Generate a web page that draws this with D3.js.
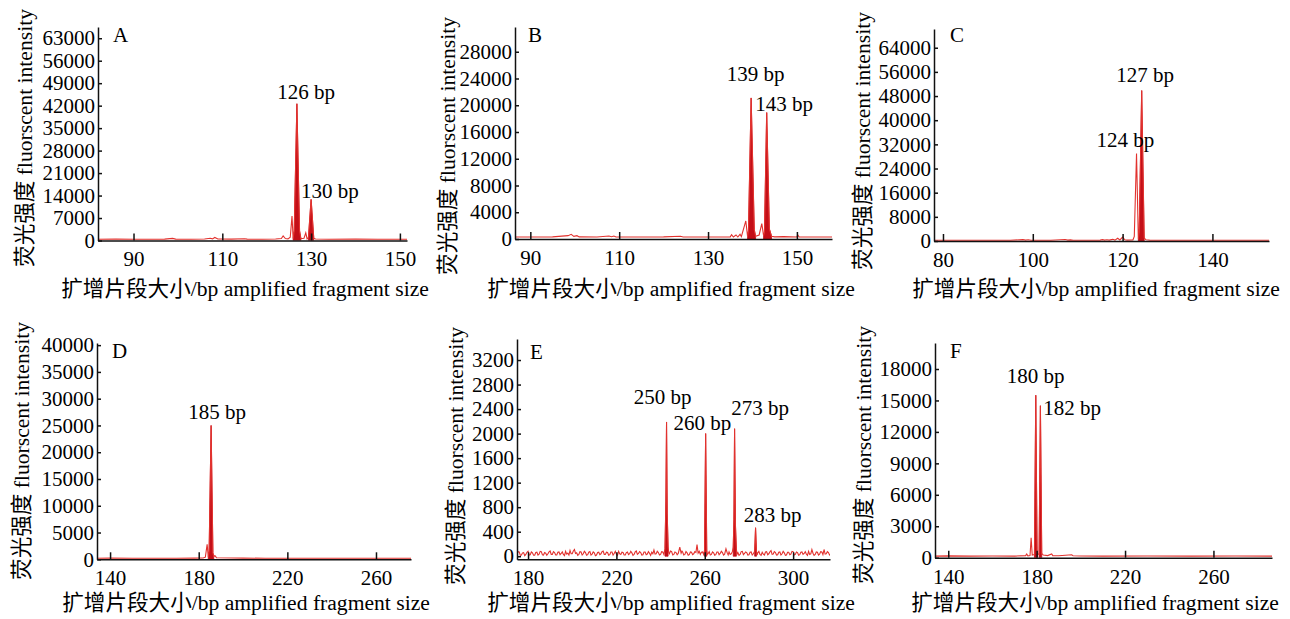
<!DOCTYPE html>
<html lang="en">
<head>
<meta charset="utf-8">
<script src="https://cdn.jsdelivr.net/npm/d3@7"></script>
<style>
  body { margin: 0; background: #fff; }
</style>
</head>
<body>
<div id="my_chart"></div>
<script>
// ---- data: [fragment size (bp), intensity] ----
const traceA = [[82,400],[86,420],[90,400],[94,380],[97,420],[98.8,650],[99.5,420],[103,400],[106,450],[107.3,700],[107.8,500],[108.3,950],[109,450],[112,420],[115,550],[115.6,420],[119,400],[122,450],[123.3,600],[123.7,1400],[124.2,600],[124.8,500],[125.3,1000],[125.7,7600],[125.95,600],[126.2,3000],[126.8,42600],[127.4,3000],[127.7,600],[128.4,700],[128.8,2400],[129.1,500],[129.4,900],[130.0,12800],[130.6,700],[131,450],[134,400],[140,420],[145,400],[151.6,400]];
const fillA = [[125.95,127.7],[129.4,130.6]];

const traceB = [[86.5,300],[90,300],[95,320],[98.5,500],[99.2,700],[99.8,400],[100.5,500],[101,320],[105,300],[107.7,450],[108.3,350],[108.8,450],[109.3,300],[115,300],[120,320],[123.8,420],[124.4,300],[130,300],[135,320],[135.3,650],[135.7,300],[136.3,600],[136.7,300],[137.2,700],[137.5,350],[138.5,2700],[138.9,400],[139.1,1200],[139.7,21100],[140.4,1400],[140.7,400],[141.5,600],[142.1,2300],[142.5,500],[142.7,1000],[143.2,18900],[143.8,1500],[144.3,400],[145,320],[147,350],[150,300],[150.2,600],[150.5,300],[155,300],[157.9,300]];
const fillB = [[138.9,140.7],[142.5,144.3]];

const traceC = [[78,250],[85,250],[90,260],[95,250],[97.8,450],[98.4,300],[99,400],[99.6,260],[104,250],[107.2,500],[107.8,300],[108.4,380],[109,250],[112,260],[115,300],[115.5,450],[116,280],[116.5,420],[117,280],[117.8,550],[118.3,300],[118.9,900],[119.4,350],[120,1300],[120.5,400],[121,300],[122.3,350],[122.6,1500],[123.1,29000],[123.5,800],[123.7,3000],[124.25,49800],[124.8,1000],[125.2,400],[126,280],[130,250],[135,260],[140,250],[145,250],[152.6,250]];
const fillC = [[123.5,124.8]];

const traceD = [[134,200],[140,220],[150,200],[160,210],[170,200],[178,220],[182,250],[183,400],[183.8,2800],[184.3,500],[184.7,1500],[185.6,25000],[186.4,1200],[186.8,500],[187.3,700],[188,300],[195,250],[200,220],[210,200],[230,210],[250,200],[265,210],[275.8,200]];
const fillD = [[184.3,186.8]];

const traceE = [[175,40],[175.5,75],[176,70],[176.5,15],[177,20],[177.5,55],[178,60],[178.5,10],[179,30],[179.5,65],[180,80],[180.5,20],[181,25],[181.5,70],[182,55],[182.5,15],[183,15],[183.5,60],[184,65],[184.5,20],[185,35],[185.5,80],[186,75],[186.5,25],[187,20],[187.5,60],[188,50],[188.5,15],[189,40],[189.5,70],[190,85],[190.5,30],[191,30],[191.5,75],[192,60],[192.5,20],[193,20],[193.5,65],[194,70],[194.5,25],[195,45],[195.5,70],[196,30],[196.5,10],[197,80],[197.5,35],[198,50],[198.5,20],[199,95],[199.5,40],[200,40],[200.5,85],[201,110],[201.5,45],[202,55],[202.5,15],[203,30],[203.5,75],[204,70],[204.5,20],[205,40],[205.5,80],[206,60],[206.5,15],[207,25],[207.5,65],[208,75],[208.5,20],[209,35],[209.5,70],[210,55],[210.5,10],[211,20],[211.5,60],[212,65],[212.5,25],[213,40],[213.5,75],[214,85],[214.5,30],[215,30],[215.5,65],[216,60],[216.5,15],[217,25],[217.5,70],[218,70],[218.5,20],[219,45],[219.5,80],[220,35],[220.5,15],[221,80],[221.5,40],[222,30],[222.5,65],[223,60],[223.5,20],[224,20],[224.5,60],[225,70],[225.5,25],[226,40],[226.5,80],[227,55],[227.5,15],[228,30],[228.5,70],[229,85],[229.5,30],[230,45],[230.5,75],[231,60],[231.5,20],[232,25],[232.5,70],[233,70],[233.5,25],[234,35],[234.5,75],[235,50],[235.5,15],[236,65],[236.5,40],[237,100],[237.5,35],[238,40],[238.5,80],[239,60],[239.5,20],[240,30],[240.5,75],[241,70],[241.5,30],[242.0,120],[242.4,900],[242.7,2190],[243.0,700],[243.4,150],[243.7,60],[244,40],[244.5,85],[245,75],[245.5,20],[246,30],[246.5,70],[247,60],[247.5,25],[248,45],[248.7,150],[249.3,50],[249.7,85],[250,70],[250.5,20],[251,30],[251.5,75],[252,55],[252.5,15],[253,25],[253.5,70],[254,65],[254.5,25],[255,40],[255.5,75],[256,60],[256.5,190],[257,50],[257.5,80],[258,30],[258.5,65],[259,70],[259.5,30],[259.9,100],[260.4,2000],[260.9,100],[261.2,30],[261.5,40],[262,75],[262.5,20],[263,30],[263.5,70],[264,55],[264.5,15],[265,25],[265.5,70],[266,70],[266.5,25],[267,45],[267.5,80],[268,60],[268.5,20],[269,35],[269.6,120],[270.2,50],[270.6,20],[271,70],[271.5,30],[272,40],[272.5,75],[272.9,150],[273.2,600],[273.5,2080],[273.9,500],[274.3,120],[274.6,30],[275,60],[275.5,15],[276,30],[276.5,75],[277,80],[277.5,25],[278,45],[278.5,70],[279,60],[279.5,20],[280,25],[280.5,65],[281,70],[281.5,20],[282,40],[282.6,80],[283.0,465],[283.4,80],[283.7,20],[284,55],[284.5,80],[285,30],[285.5,15],[286,65],[286.5,35],[287,20],[287.5,70],[288,75],[288.5,25],[289,40],[289.5,70],[290,90],[290.5,30],[291,35],[291.5,75],[292,60],[292.5,20],[293,25],[293.5,65],[294,70],[294.5,20],[295,40],[295.5,80],[296,55],[296.5,15],[297,20],[297.5,65],[298,65],[298.5,25],[299,35],[299.5,80],[300,75],[300.5,20],[301,30],[301.5,70],[302,60],[302.5,15],[303,25],[303.5,65],[304,70],[304.5,30],[305,45],[305.5,75],[306,35],[306.5,15],[307,80],[307.5,30],[308,40],[308.5,110],[309,50],[309.5,15],[310,30],[310.5,70],[311,65],[311.5,20],[312,35],[312.5,75],[313,70],[313.5,25],[314,110],[314.5,35],[315,40],[315.5,75],[316,60],[316.5,20],[317,30]];
const fillE = [[242.0,243.4],[259.9,260.9],[272.9,274.3],[282.6,283.4]];

const traceF = [[134,150],[140,170],[150,150],[160,160],[170,150],[175,200],[175.5,350],[176,180],[177,200],[177.5,1900],[178,250],[179,300],[179.6,15500],[180.2,400],[181.1,300],[181.7,14500],[182.3,400],[183,250],[185,200],[186.8,350],[187.3,200],[190,180],[195.9,280],[196.5,180],[200,160],[210,150],[230,160],[250,150],[270,160],[286.5,150]];
const fillF = [[179.0,180.2],[181.1,182.3]];

// tick labels
const xTicksA = [90,110,130,150];
const xTicksB = [90,110,130,150];
const xTicksC = [80,100,120,140];
const xTicksD = [140,180,220,260];
const xTicksE = [180,220,260,300];
const xTicksF = [140,180,220,260];
const yTicksA = [0,7000,14000,21000,28000,35000,42000,49000,56000,63000];
const yTicksB = [0,4000,8000,12000,16000,20000,24000,28000];
const yTicksC = [0,8000,16000,24000,32000,40000,48000,56000,64000];
const yTicksD = [0,5000,10000,15000,20000,25000,30000,35000,40000];
const yTicksE = [0,400,800,1200,1600,2000,2400,2800,3200];
const yTicksF = [0,3000,6000,9000,12000,15000,18000];

// peak annotations
const notesA = ["126 bp","130 bp"];
const notesB = ["139 bp","143 bp"];
const notesC = ["127 bp","124 bp"];
const notesD = ["185 bp"];
const notesE = ["250 bp","260 bp","273 bp","283 bp"];
const notesF = ["180 bp","182 bp"];

const yTitle = "荧光强度 fluorscent intensity";
const xTitle = "扩增片段大小/bp amplified fragment size";

// ---- layout (pixels) and where the annotations sit, in data units ----
const panels = [
  {tag:"A", trace:traceA, fills:fillA, xTicks:xTicksA, yTicks:yTicksA, notes:notesA,
   left:98, right:407, top:27, bottom:240.5, xDom:[82,151.6], yDom:[0,66500],
   yT:[24,138], xT:[245,296], tagPos:[113,42], notePos:[[122.4,44000],[127.7,13200]]},
  {tag:"B", trace:traceB, fills:fillB, xTicks:xTicksB, yTicks:yTicksB, notes:notesB,
   left:515, right:832, top:27, bottom:239, xDom:[86.55,157.9], yDom:[0,31700],
   yT:[447,146], xT:[671,296], tagPos:[528,42], notePos:[[134.2,23600],[140.6,19100]]},
  {tag:"C", trace:traceC, fills:fillC, xTicks:xTicksC, yTicks:yTicksC, notes:notesC,
   left:934, right:1269, top:29, bottom:241, xDom:[78,152.6], yDom:[0,70200],
   yT:[862,141], xT:[1096,296], tagPos:[950,42], notePos:[[118.6,52800],[114.2,31200]]},
  {tag:"D", trace:traceD, fills:fillD, xTicks:xTicksD, yTicks:yTicksD, notes:notesD,
   left:97, right:411, top:343, bottom:559.3, xDom:[134.1,275.8], yDom:[0,40400],
   yT:[21,451], xT:[246,610], tagPos:[112,358], notePos:[[175.3,26200]]},
  {tag:"E", trace:traceE, fills:fillE, xTicks:xTicksE, yTicks:yTicksE, notes:notesE,
   left:517, right:830, top:339, bottom:559.3, xDom:[175,316.7], yDom:[-50,3543],
   yT:[455,456], xT:[671,610], tagPos:[530,359], notePos:[[227.8,2480],[245.9,2060],[272.0,2310],[277.6,560]]},
  {tag:"F", trace:traceF, fills:fillF, xTicks:xTicksF, yTicks:yTicksF, notes:notesF,
   left:935, right:1272, top:343, bottom:557.7, xDom:[134,286.5], yDom:[0,20480],
   yT:[863,455], xT:[1095,610], tagPos:[950,358], notePos:[[166.5,16630],[183.0,13590]]}
];

const fontSize = 21;
const titleSize = 21.6;
const fontFam = "'Liberation Serif', 'Noto Sans CJK SC'";
const lineColor = "#e2322e";
const fillColor = "#c30f18";

const svg = d3.select("#my_chart")
  .append("svg")
    .attr("width", 1290)
    .attr("height", 619)
    .attr("font-family", fontFam);

// every text gets the serif face inline
function label(sel, size) {
  return sel.style("font-family", fontFam).style("font-size", (size || fontSize) + "px").attr("fill", "#000");
}

panels.forEach(function(p, i) {
  const x = d3.scaleLinear().domain(p.xDom).range([p.left, p.right]);
  const y = d3.scaleLinear().domain(p.yDom).range([p.bottom, p.top]);

  svg.append("clipPath")
      .attr("id", "clip" + i)
    .append("rect")
      .attr("x", p.left).attr("y", p.top)
      .attr("width", p.right - p.left).attr("height", p.bottom - p.top);

  const g = svg.append("g").attr("clip-path", `url(#clip${i})`);

  // filled peaks
  const area = d3.area()
    .x(d => x(d[0]))
    .y0(y(0))
    .y1(d => y(d[1]));
  p.fills.forEach(function(r) {
    const pts = p.trace.filter(d => d[0] >= r[0] && d[0] <= r[1]);
    g.append("path")
      .attr("d", area(pts))
      .attr("fill", fillColor)
      .attr("stroke", fillColor)
      .attr("stroke-width", 0.8);
  });

  // trace line
  const line = d3.line()
    .x(d => x(d[0]))
    .y(d => y(d[1]));
  g.append("path")
    .attr("d", line(p.trace))
    .attr("fill", "none")
    .attr("stroke", lineColor)
    .attr("stroke-width", 1.1)
    .attr("stroke-linejoin", "miter");

  // axes
  const yAxis = svg.append("g")
    .attr("transform", `translate(${p.left},0)`)
    .call(d3.axisLeft(y).tickValues(p.yTicks).tickFormat(d3.format("d"))
      .tickSizeInner(-4).tickSizeOuter(0).tickPadding(3));
  const xAxis = svg.append("g")
    .attr("transform", `translate(0,${p.bottom})`)
    .call(d3.axisBottom(x).tickValues(p.xTicks).tickFormat(d3.format("d"))
      .tickSizeInner(-7).tickSizeOuter(0).tickPadding(11));

  [yAxis, xAxis].forEach(function(a) {
    a.attr("font-family", fontFam).attr("font-size", fontSize);
    a.selectAll("path, line").attr("stroke", "#111").attr("stroke-width", 1.5);
    label(a.selectAll("text"));
  });

  // panel tag
  label(svg.append("text")
    .attr("x", p.tagPos[0]).attr("y", p.tagPos[1]))
    .text(p.tag);

  // peak labels
  p.notes.forEach(function(t, k) {
    label(svg.append("text")
      .attr("x", x(p.notePos[k][0]))
      .attr("y", y(p.notePos[k][1])))
      .text(t);
  });

  // axis titles
  label(svg.append("text")
    .attr("transform", `translate(${p.yT[0]},${p.yT[1]}) rotate(-90)`)
    .attr("dy", "0.35em")
    .style("text-anchor", "middle"), titleSize)
    .text(yTitle);

  label(svg.append("text")
    .attr("x", p.xT[0]).attr("y", p.xT[1])
    .style("text-anchor", "middle"), titleSize)
    .text(xTitle);
});
</script>
</body>
</html>
